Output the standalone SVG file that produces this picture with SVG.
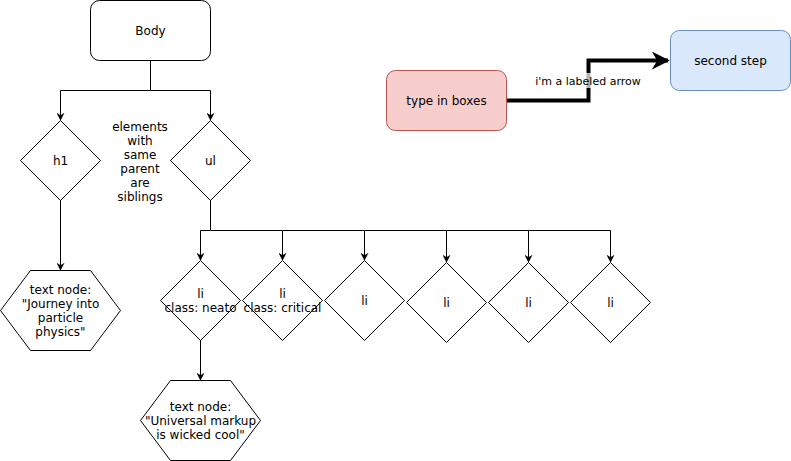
<svg xmlns="http://www.w3.org/2000/svg" width="791" height="461" viewBox="0 0 791 461">
  <style>
    text { font-family: "DejaVu Sans", "Liberation Sans", sans-serif; font-size: 12px; fill: #000; text-anchor: middle; }
    .shape { fill: #fff; stroke: #000; stroke-width: 1; }
    .edge { fill: none; stroke: #000; stroke-width: 1; }
    .thick { fill: none; stroke: #000; stroke-width: 4; }
    .small { font-size: 11px; }
  </style>
  <defs>
    <marker id="arrow" viewBox="0 0 10 10" refX="9" refY="5" markerWidth="8" markerHeight="8" markerUnits="userSpaceOnUse" orient="auto">
      <path d="M0,0 L10,5 L0,10 L3,5 Z" fill="#000"/>
    </marker>
    <marker id="arrowBig" viewBox="0 0 10 10" refX="9" refY="5" markerWidth="4.5" markerHeight="4.5" orient="auto">
      <path d="M0,0 L10,5 L0,10 L3,5 Z" fill="#000"/>
    </marker>
  </defs>

  <!-- connectors -->
  <g id="connectors">
    <path class="edge" d="M150.5,60.5 V90.5 H60.5 V120" marker-end="url(#arrow)"/>
    <path class="edge" d="M150.5,90.5 H210.5 V120" marker-end="url(#arrow)"/>
    <path class="edge" d="M60.5,200 V270" marker-end="url(#arrow)"/>
    <path class="edge" d="M210.5,200 V230.5 H200.5 V260" marker-end="url(#arrow)"/>
    <path class="edge" d="M210.5,230.5 H282.5 V260" marker-end="url(#arrow)"/>
    <path class="edge" d="M282.5,230.5 H364.5 V260" marker-end="url(#arrow)"/>
    <path class="edge" d="M364.5,230.5 H446.5 V262" marker-end="url(#arrow)"/>
    <path class="edge" d="M446.5,230.5 H528.5 V262" marker-end="url(#arrow)"/>
    <path class="edge" d="M528.5,230.5 H610.5 V262" marker-end="url(#arrow)"/>
    <path class="edge" d="M200.5,340 V380" marker-end="url(#arrow)"/>
    <path class="thick" d="M506.5,100.5 H588.5 V60.5 H668" marker-end="url(#arrowBig)"/>
    <rect x="535" y="73" width="106" height="15" fill="#fff" fill-opacity="0.7"/>
    <text class="small" x="588" y="84.5">i'm a labeled arrow</text>
  </g>

  <g id="body">
    <rect class="shape" x="90.5" y="0.5" width="120" height="60" rx="9"/>
    <text x="150.5" y="35">Body</text>
  </g>

  <g id="h1">
    <polygon class="shape" points="60.5,120.5 100.5,160.5 60.5,200.5 20.5,160.5"/>
    <text x="60.5" y="165">h1</text>
  </g>

  <g id="ul">
    <polygon class="shape" points="210.5,120.5 250.5,160.5 210.5,200.5 170.5,160.5"/>
    <text x="210.5" y="165">ul</text>
  </g>

  <g id="siblings-note">
    <text x="140" y="131">elements</text>
    <text x="140" y="145">with</text>
    <text x="140" y="159">same</text>
    <text x="140" y="173">parent</text>
    <text x="140" y="187">are</text>
    <text x="140" y="201">siblings</text>
  </g>

  <g id="text-node-h1">
    <polygon class="shape" points="0.5,310.5 30.5,270.5 90.5,270.5 120.5,310.5 90.5,350.5 30.5,350.5"/>
    <text x="60.5" y="294">text node:</text>
    <text x="60.5" y="308">"Journey into</text>
    <text x="60.5" y="322">particle</text>
    <text x="60.5" y="336">physics"</text>
  </g>

  <g id="li-1">
    <polygon class="shape" points="200.5,260.5 240.5,300.5 200.5,340.5 160.5,300.5"/>
    <text x="200.5" y="298">li</text>
    <text x="200.5" y="312">class: neato</text>
  </g>

  <g id="li-2">
    <polygon class="shape" points="282.5,260.5 322.5,300.5 282.5,340.5 242.5,300.5"/>
    <text x="282.5" y="298">li</text>
    <text x="282.5" y="312">class: critical</text>
  </g>

  <g id="li-3">
    <polygon class="shape" points="364.5,260.5 404.5,300.5 364.5,340.5 324.5,300.5"/>
    <text x="364.5" y="305">li</text>
  </g>

  <g id="li-4">
    <polygon class="shape" points="446.5,262.5 486.5,302.5 446.5,342.5 406.5,302.5"/>
    <text x="446.5" y="307">li</text>
  </g>

  <g id="li-5">
    <polygon class="shape" points="528.5,262.5 568.5,302.5 528.5,342.5 488.5,302.5"/>
    <text x="528.5" y="307">li</text>
  </g>

  <g id="li-6">
    <polygon class="shape" points="610.5,262.5 650.5,302.5 610.5,342.5 570.5,302.5"/>
    <text x="610.5" y="307">li</text>
  </g>

  <g id="text-node-li">
    <polygon class="shape" points="140.5,420.5 170.5,380.5 230.5,380.5 260.5,420.5 230.5,460.5 170.5,460.5"/>
    <text x="200.5" y="411">text node:</text>
    <text x="200.5" y="425">"Universal markup</text>
    <text x="200.5" y="439">is wicked cool"</text>
  </g>

  <g id="type-in-boxes">
    <rect x="386.5" y="70.5" width="120" height="60" rx="9" fill="#f8cecc" stroke="#b85450"/>
    <text x="446.5" y="105">type in boxes</text>
  </g>

  <g id="second-step">
    <rect x="670.5" y="30.5" width="120" height="60" rx="9" fill="#dae8fc" stroke="#6c8ebf"/>
    <text x="730.5" y="65">second step</text>
  </g>
</svg>
